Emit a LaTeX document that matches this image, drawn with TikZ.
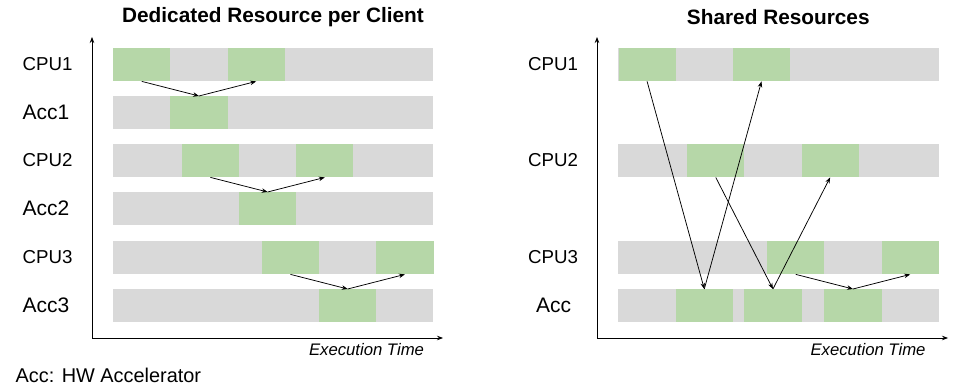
\documentclass[tikz,border=0pt]{standalone}
\usepackage{fontspec}
\setmainfont{Liberation Sans}
\usetikzlibrary{arrows.meta}

\definecolor{barbg}{HTML}{D9D9D9}
\definecolor{busy}{HTML}{B6D7A8}

\tikzset{
  slot/.style={fill=busy, inner sep=0, minimum width=57.2pt, minimum height=33pt, anchor=north west},
  flow/.style={-{Stealth[length=6pt,width=4.5pt]}, line width=0.75pt},
  axis/.style={-{Stealth[length=6pt,width=4.5pt]}, line width=0.75pt},
  cpulbl/.style={inner sep=0, font=\fontsize{18.7}{20}\selectfont},
  acclbl/.style={inner sep=0, font=\fontsize{21}{22}\selectfont},
  keylbl/.style={inner sep=0, font=\fontsize{19.9}{22}\selectfont},
  title/.style={inner sep=0, font=\bfseries\fontsize{20.8}{22}\selectfont},
  timelbl/.style={inner sep=0, font=\itshape\fontsize{16.7}{18}\selectfont}
}

\begin{document}
\begin{tikzpicture}[x=1pt, y=-1pt]
  \useasboundingbox (0,0) rectangle (977,387);

  % ---- dedicated resource per client ----
  \def\ul{57.2}
  \def\xl{113}
  \node[title] (t1) at (273,17) {Dedicated Resource per Client};
  \coordinate (o1) at (92,338);
  \draw[axis] (o1) -- (92,37);
  \draw[axis] (o1) -- (443,338);
  \node[timelbl] (x1) at (366.5,350) {Execution Time};

  \foreach \y in {48,96,144,192,241,289}
    \fill[barbg] (\xl,\y) rectangle +(320,33);

  \node[cpulbl, anchor=west] (l1) at (22.5,64.5) {CPU1};
  \node[acclbl, anchor=west] (l2) at (22.5,112.5) {Acc1};
  \node[cpulbl, anchor=west] (l3) at (22.5,160.5) {CPU2};
  \node[acclbl, anchor=west] (l4) at (22.5,208.5) {Acc2};
  \node[cpulbl, anchor=west] (l5) at (22.5,257.5) {CPU3};
  \node[acclbl, anchor=west] (l6) at (22.5,305.5) {Acc3};

  \node[slot] (c1a) at ({\xl+0*\ul},48) {};
  \node[slot] (c1b) at ({\xl+2*\ul},48) {};
  \node[slot] (a1)  at ({\xl+1*\ul},96) {};
  \node[slot] (c2a) at ({\xl+1.2*\ul},144) {};
  \node[slot] (c2b) at ({\xl+3.2*\ul},144) {};
  \node[slot] (a2)  at ({\xl+2.2*\ul},192) {};
  \node[slot] (c3a) at ({\xl+2.6*\ul},241) {};
  \node[slot] (c3b) at ({\xl+4.6*\ul},241) {};
  \node[slot] (a3)  at ({\xl+3.6*\ul},289) {};

  \draw[flow] (c1a.south) -- (a1.north);
  \draw[flow] (a1.north) -- (c1b.south);
  \draw[flow] (c2a.south) -- (a2.north);
  \draw[flow] (a2.north) -- (c2b.south);
  \draw[flow] (c3a.south) -- (a3.north);
  \draw[flow] (a3.north) -- (c3b.south);

  \node[keylbl, anchor=west] (key) at (15.5,375) {Acc: HW Accelerator};

  % ---- shared resources ----
  \def\xr{618.3}
  \node[title] (t2) at (778.3,17) {Shared Resources};
  \coordinate (o2) at (597,338);
  \draw[axis] (o2) -- (597,37);
  \draw[axis] (o2) -- (948,338);
  \node[timelbl] (x2) at (868,350) {Execution Time};

  \foreach \y in {48,144,241,289}
    \fill[barbg] (\xr,\y) rectangle +(320.7,33);

  \node[cpulbl] (r1) at (553,64.5) {CPU1};
  \node[cpulbl] (r2) at (553,160.5) {CPU2};
  \node[cpulbl] (r3) at (553,257.5) {CPU3};
  \node[acclbl] (r4) at (553.5,305.5) {Acc};

  \node[slot] (s1a) at ({\xr+0*\ul},48) {};
  \node[slot] (s1b) at ({\xr+2*\ul},48) {};
  \node[slot] (s2a) at ({\xr+1.2*\ul},144) {};
  \node[slot] (s2b) at ({\xr+3.2*\ul},144) {};
  \node[slot] (s3a) at ({\xr+2.6*\ul},241) {};
  \node[slot] (s3b) at ({\xr+4.6*\ul},241) {};
  \node[slot] (sa1) at ({\xr+1*\ul},289) {};
  \node[slot] (sa2) at ({\xr+2.2*\ul},289) {};
  \node[slot] (sa3) at ({\xr+3.6*\ul},289) {};

  \draw[flow] (s1a.south) -- (sa1.north);
  \draw[flow] (sa1.north) -- (s1b.south);
  \draw[flow] (s2a.south) -- (sa2.north);
  \draw[flow] (sa2.north) -- (s2b.south);
  \draw[flow] (s3a.south) -- (sa3.north);
  \draw[flow] (sa3.north) -- (s3b.south);
\end{tikzpicture}
\end{document}
